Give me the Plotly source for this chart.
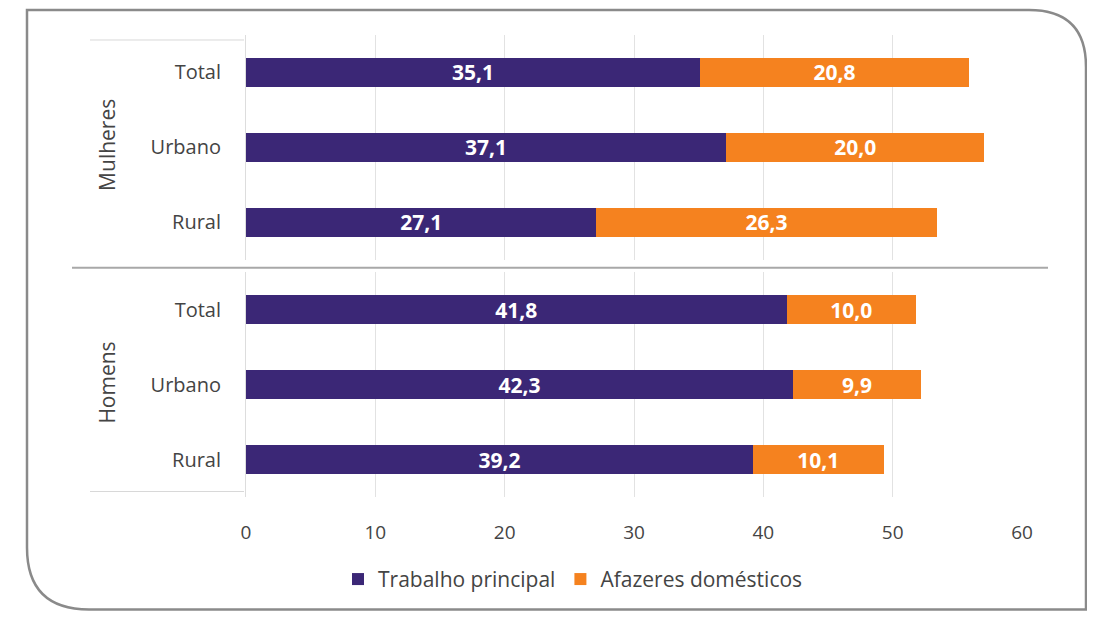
import plotly.graph_objects as go

categories = ["Total", "Urbano", "Rural"]
groups = ["Mulheres", "Homens"]
trabalho_mulheres = [35.1, 37.1, 27.1]
afazeres_mulheres = [20.8, 20.0, 26.3]
trabalho_homens = [41.8, 42.3, 39.2]
afazeres_homens = [10.0, 9.9, 10.1]
series_names = ["Trabalho principal", "Afazeres domésticos"]
x_ticks = [0, 10, 20, 30, 40, 50, 60]

OFF = 8  # page body margin
W, H = 1095 - OFF, 618 - OFF
L, T = 246 - OFF, 35 - OFF
R = W - (1022 - OFF)
B = H - (497.5 - OFF)
PW, PH = W - L - R, H - T - B

def px(x):
    return (x - OFF - L) / PW

def py(y):
    return (H - B - (y - OFF)) / PH

PURPLE = "#3b2776"
ORANGE = "#f5821f"
FONT = "Open Sans"

def fmt(v):
    return f"{v:.1f}".replace(".", ",")

fig = go.Figure()
data = [
    ("y", trabalho_mulheres, afazeres_mulheres, True),
    ("y2", trabalho_homens, afazeres_homens, False),
]
for yax, trab, afaz, show in data:
    for name, vals, col in [(series_names[0], trab, PURPLE), (series_names[1], afaz, ORANGE)]:
        fig.add_trace(go.Bar(
            x=vals, y=categories, orientation="h", name=name,
            marker=dict(color=col, line=dict(width=0)),
            text=[fmt(v) for v in vals], textposition="inside",
            insidetextanchor="middle", textangle=0, constraintext="none",
            textfont=dict(color="white", size=21, family=FONT, weight="bold"),
            xaxis="x", yaxis=yax, showlegend=show, legendgroup=name,
            hoverinfo="skip",
        ))

gap = 12.5 / PH
yax_common = dict(
    type="category", categoryorder="array", categoryarray=categories,
    autorange="reversed", showgrid=False, zeroline=False,
    ticks="outside", ticklen=20, tickcolor="rgba(0,0,0,0)",
    tickfont=dict(family=FONT, size=20, color="#444"),
    showline=True, linecolor="#dddddd", linewidth=1,
)
fig.update_layout(
    width=W, height=H,
    margin=dict(l=L, r=R, t=T, b=B),
    paper_bgcolor="white", plot_bgcolor="white",
    barmode="stack", bargap=0.61,
    font=dict(family=FONT, color="#444"),
    xaxis=dict(
        range=[0, 60], tickvals=x_ticks, anchor="y2",
        showgrid=True, gridcolor="#e2e2e2", gridwidth=1, zeroline=False,
        ticks="outside", ticklen=18, tickcolor="rgba(0,0,0,0)",
        tickfont=dict(family=FONT, size=19, color="#444"),
    ),
    yaxis=dict(domain=[0.5 + gap / 2, 1], anchor="x", **yax_common),
    yaxis2=dict(domain=[0, 0.5 - gap / 2], anchor="x", **yax_common),
    legend=dict(
        orientation="h", x=px(573), y=py(580), xanchor="center", yanchor="middle",
        font=dict(family=FONT, size=21, color="#444"), itemwidth=30,
        traceorder="normal",
    ),
)

# group labels
for g, yc in zip(groups, [py(145), py(383)]):
    fig.add_annotation(
        text=g, x=px(107), y=yc, xref="paper", yref="paper",
        xanchor="center", yanchor="middle",
        showarrow=False, textangle=-90,
        font=dict(family=FONT, size=21, color="#444"),
    )

line_gray = "#a8a8a8"
# separator & label-area lines
fig.add_shape(type="line", xref="paper", yref="paper",
              x0=px(72), x1=px(1048), y0=py(268), y1=py(268),
              line=dict(color=line_gray, width=2))
for yy in [40, 492]:
    fig.add_shape(type="line", xref="paper", yref="paper",
                  x0=px(90), x1=px(244), y0=py(yy), y1=py(yy),
                  line=dict(color="#d8d8d8", width=1))

# rounded frame
x0, y0, x1, y1 = 27, 10, 1086, 610
r1, r2 = 57, 62
pts = [
    f"M {px(x0)},{py(y0)}",
    f"L {px(x1 - r1)},{py(y0)}",
    f"Q {px(x1)},{py(y0)} {px(x1)},{py(y0 + r1)}",
    f"L {px(x1)},{py(y1)}",
    f"L {px(x0 + r2)},{py(y1)}",
    f"Q {px(x0)},{py(y1)} {px(x0)},{py(y1 - r2)}",
    "Z",
]
fig.add_shape(type="path", xref="paper", yref="paper", path=" ".join(pts),
              line=dict(color="#8a8a8a", width=2.5), layer="below")

fig.write_html("out.html")
